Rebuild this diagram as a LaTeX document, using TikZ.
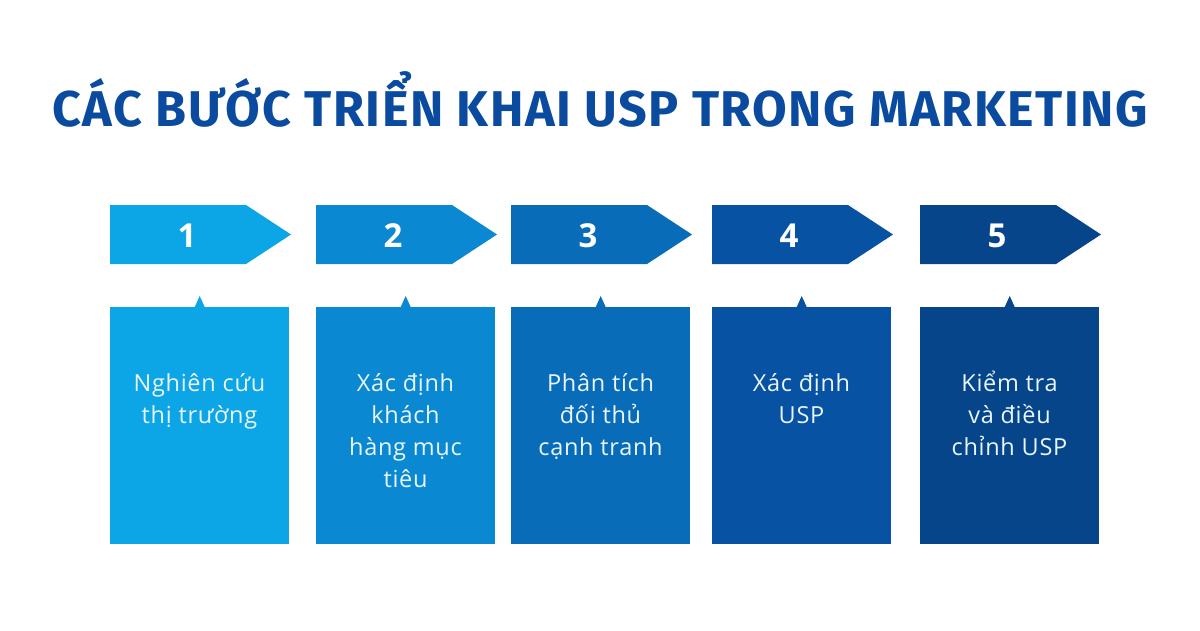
\documentclass[tikz,border=0pt]{standalone}
\usepackage{fontspec}
\setmainfont{Open Sans}
\newfontfamily\cardfont[LetterSpace=3]{Open Sans}
\newfontfamily\titlefont[LetterSpace=3]{Fira Sans}
\definecolor{cA}{RGB}{12,165,230}
\definecolor{cB}{RGB}{10,137,210}
\definecolor{cC}{RGB}{8,108,185}
\definecolor{cD}{RGB}{8,82,163}
\definecolor{cE}{RGB}{7,69,139}
\definecolor{titleblue}{RGB}{10,75,160}
\definecolor{lighttext}{RGB}{234,246,253}
\tikzset{
  numlabel/.style={anchor=base, inner sep=0pt, text=white, font=\fontsize{33}{36}\selectfont\bfseries},
  stepcard/.style={rectangle, anchor=north west, minimum width=179pt, minimum height=237pt, inner sep=0pt},
  cardtext/.style={anchor=north, inner sep=0pt, align=center, text=lighttext, font=\cardfont\fontsize{23.5}{32}\selectfont},
}
\newcommand{\firstline}{\rule{0pt}{28pt}}
\begin{document}
\begin{tikzpicture}[x=1pt,y=-1pt]
\useasboundingbox[fill=white] (0,0) rectangle (1200,630);
\node[anchor=base, inner sep=0pt, text=titleblue] (title) at (600,126)
  {\resizebox{1095pt}{!}{\titlefont\fontsize{54}{60}\selectfont\bfseries CÁC BƯỚC TRIỂN KHAI USP TRONG MARKETING}};
\foreach \i/\l/\c/\n/\t in {
  1/110/cA/1/{Nghiên cứu\\thị trường},
  2/316/cB/2/{Xác định\\khách\\hàng mục\\tiêu},
  3/511/cC/3/{Phân tích\\đối thủ\\cạnh tranh},
  4/712/cD/4/{Xác định\\USP},
  5/920/cE/5/{Kiểm tra\\và điều\\chỉnh USP}} {
  \fill[\c] (\l,205) -- ++(136,0) -- ++(45,29.5) -- ++(-45,29.5) -- (\l,264) -- cycle;
  \node[numlabel] (num\i) at (\l+77,247) {\n};
  \node[stepcard, fill=\c] (card\i) at (\l,307) {};
  \fill[\c] ([xshift=-5pt]card\i.north) -- ([yshift=11pt]card\i.north) -- ([xshift=5pt]card\i.north) -- cycle;
  \node[cardtext] (txt\i) at (\l+89.5,363) {\firstline\t};
}
\end{tikzpicture}
\end{document}
